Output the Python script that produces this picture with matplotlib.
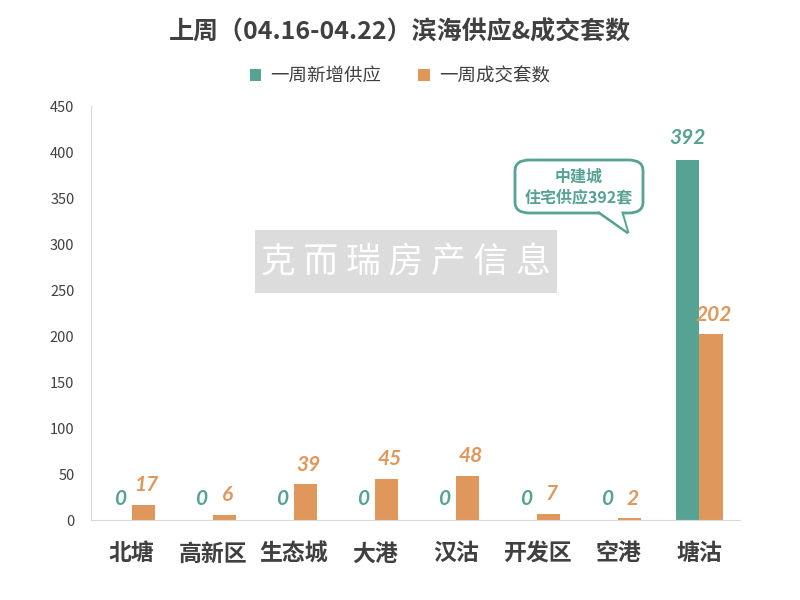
import matplotlib
matplotlib.use("Agg")
import matplotlib.pyplot as plt
import numpy as np
from matplotlib.patches import FancyBboxPatch, Polygon, Rectangle

plt.rcParams['font.family'] = ['Noto Sans CJK SC', 'DejaVu Sans']

categories = ['北塘', '高新区', '生态城', '大港', '汉沽', '开发区', '空港', '塘沽']
supply = [0, 0, 0, 0, 0, 0, 0, 392]
deals = [17, 6, 39, 45, 48, 7, 2, 202]
yticks = [0, 50, 100, 150, 200, 250, 300, 350, 400, 450]

green = '#56A393'
orange = '#E0975C'
dark = '#404040'

fig = plt.figure(figsize=(8, 6), dpi=100)
ax = fig.add_axes([0.114, 0.133, 0.811, 0.69])

x = np.arange(len(categories))
w = 0.285
b1 = ax.bar(x - w/2, supply, w, color=green, label='一周新增供应')
b2 = ax.bar(x + w/2, deals, w, color=orange, label='一周成交套数')

numfont = ['Lato', 'DejaVu Sans']
for xi, v in zip(x, supply):
    ax.annotate(str(v), (xi - w/2, v), xytext=(0, 8), textcoords='offset points',
                ha='center', va='bottom', color=green, fontsize=15,
                fontweight='bold', style='italic', family=numfont)
for xi, v in zip(x, deals):
    ax.annotate(str(v), (xi + w/2, v), xytext=(2, 7), textcoords='offset points',
                ha='center', va='bottom', color=orange, fontsize=15,
                fontweight='bold', style='italic', family=numfont)

ax.set_xlim(-0.5, len(categories) - 0.5)
ax.set_ylim(0, 450)
ax.set_yticks(yticks)
ax.set_yticklabels([str(t) for t in yticks], fontsize=10.5, color=dark)
ax.set_xticks(x)
ax.set_xticklabels(categories, fontsize=16.5, fontweight='bold', color=dark)
ax.tick_params(axis='x', length=0, pad=16)
ax.tick_params(axis='y', length=0, pad=12)
for s in ['top', 'right']:
    ax.spines[s].set_visible(False)
for s in ['left', 'bottom']:
    ax.spines[s].set_color('#D9D9D9')

fig.text(0.5, 0.946, '上周（04.16-04.22）滨海供应&成交套数', ha='center', va='center',
         fontsize=18, fontweight='bold', color=dark)
leg = fig.legend(handles=[b1, b2], loc='center', bbox_to_anchor=(0.5, 0.873), ncol=2,
                 frameon=False, fontsize=13.3, handlelength=0.6, handleheight=0.6,
                 columnspacing=2.0, handletextpad=0.5)
for t in leg.get_texts():
    t.set_color(dark)

# watermark
fig.patches.append(Rectangle((255/800, 1-293/600), 302/800, 63/600,
                             transform=fig.transFigure, facecolor='#DCDCDC',
                             edgecolor='none', zorder=5))
fig.text(406/800, 1-262/600, '克 而 瑞 房 产 信 息', ha='center', va='center',
         fontsize=25, fontweight='light', color='white', zorder=6)

# callout
box = FancyBboxPatch((515/800, 1-213/600), 128/800, 53/600,
                     boxstyle='round,pad=0,rounding_size=0.018',
                     transform=fig.transFigure, facecolor='white',
                     edgecolor=green, linewidth=2, zorder=7)
fig.patches.append(box)
tail = Polygon([(598/800, 1-212/600), (628/800, 1-233/600), (622/800, 1-212/600)],
               closed=False, transform=fig.transFigure, facecolor='white',
               edgecolor=green, linewidth=2, zorder=8)
fig.patches.append(tail)
fig.patches.append(Polygon([(599/800, 1-211/600), (627/800, 1-231/600), (621/800, 1-211/600)],
                           closed=True, transform=fig.transFigure, facecolor='white',
                           edgecolor='none', zorder=8))
fig.text(579/800, 1-177/600, '中建城', ha='center', va='center', fontsize=11.5,
         fontweight='bold', color=green, zorder=9)
fig.text(579/800, 1-197/600, '住宅供应392套', ha='center', va='center', fontsize=11.5,
         fontweight='bold', color=green, zorder=9)

fig.savefig('out.png', dpi=100)
